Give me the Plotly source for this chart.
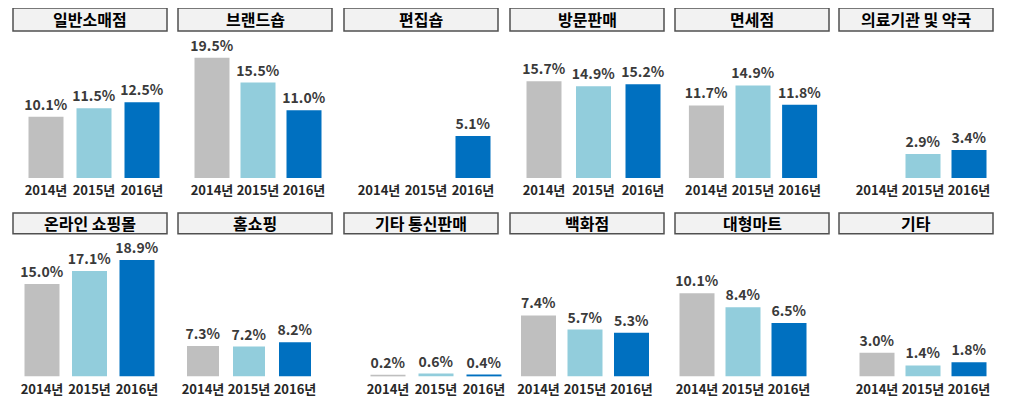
import plotly.graph_objects as go

years = ["2014년", "2015년", "2016년"]
channels = ["일반소매점", "브랜드숍", "편집숍", "방문판매", "면세점", "의료기관 및 약국",
            "온라인 쇼핑몰", "홈쇼핑", "기타 통신판매", "백화점", "대형마트", "기타"]
v2014 = [10.1, 19.5, None, 15.7, 11.7, None, 15.0, 7.3, 0.2, 7.4, 10.1, 3.0]
v2015 = [11.5, 15.5, None, 14.9, 14.9, 2.9, 17.1, 7.2, 0.6, 5.7, 8.4, 1.4]
v2016 = [12.5, 11.0, 5.1, 15.2, 11.8, 3.4, 18.9, 8.2, 0.4, 5.3, 6.5, 1.8]

colors = ["#bfbfbf", "#92cddc", "#0070c0"]

# The page body has an 8px margin, so the figure is placed at (8, 8)
OFF = 8
W, H = 1013 - 2 * OFF, 406 - 2 * OFF


def px_x(x):
    return (x - OFF) / W


def px_y(y):
    return 1 - (y - OFF) / H


# layout (reference pixels)
centers = [94, 258, 426, 593.5, 753, 923, 89.5, 249, 436, 585, 743, 923]
spacing = [48, 46, 47, 49.5, 46.6, 46, 47.5, 46, 48, 46.5, 46, 46]
px_per_pct = [6.1, 6.2, 8.3, 6.2, 6.25, 8.35, 6.2, 4.2, 5.0, 8.3, 8.3, 8.0]
bar_px = 35
rows_px = [(40, 179), (240, 378.5)]
box_left = [13, 178, 344, 510, 675, 839]
box_w = 154
box_y = [(8, 31), (214, 235)]

fig = go.Figure()
for i, name in enumerate(channels):
    r = i // 6
    c = i % 6
    ax = "" if i == 0 else str(i + 1)
    vals = [v2014[i], v2015[i], v2016[i]]
    bw = (bar_px if i != 7 else 32) / spacing[i]
    fig.add_trace(go.Bar(
        x=years, y=vals, marker=dict(color=colors, line=dict(width=0)),
        width=bw,
        texttemplate="%{y:.1f}%", textposition="outside", constraintext="none",
        textfont=dict(family="Noto Sans CJK KR", size=14, color="#3a3a3a", weight="bold"),
        cliponaxis=False, showlegend=False,
        xaxis="x" + ax, yaxis="y" + ax, hoverinfo="skip"))
    top, base = rows_px[r]
    hpx = base - top
    fig.layout["xaxis" + ax] = dict(
        domain=[px_x(centers[i] - 1.5 * spacing[i]), px_x(centers[i] + 1.5 * spacing[i])],
        anchor="y" + ax, type="category", range=[-0.5, 2.5],
        showgrid=False, zeroline=False, showline=False, ticks="", tickangle=0,
        ticklabelstandoff=3,
        tickfont=dict(family="Noto Sans CJK KR", size=13, color="#262626", weight="bold"),
        fixedrange=True)
    fig.layout["yaxis" + ax] = dict(
        domain=[px_y(base), px_y(top)], anchor="x" + ax,
        range=[0, hpx / px_per_pct[i]], visible=False, fixedrange=True)
    # title box
    bx0 = box_left[c]
    by0, by1 = box_y[r]
    fig.add_shape(type="rect", xref="paper", yref="paper",
                  x0=px_x(bx0), x1=px_x(bx0 + box_w), y0=px_y(by1), y1=px_y(by0),
                  fillcolor="#f2f2f2", line=dict(color="#505050", width=1.5))
    fig.add_annotation(text="<b>" + name + "</b>", xref="paper", yref="paper",
                       x=px_x(bx0 + box_w / 2), y=px_y((by0 + by1) / 2),
                       xanchor="center", yanchor="middle", showarrow=False,
                       font=dict(family="Noto Sans CJK KR", size=16, color="#000000"))

fig.update_layout(width=W, height=H, margin=dict(l=0, r=0, t=0, b=0),
                  paper_bgcolor="white", plot_bgcolor="white")
fig.write_html("out.html")
